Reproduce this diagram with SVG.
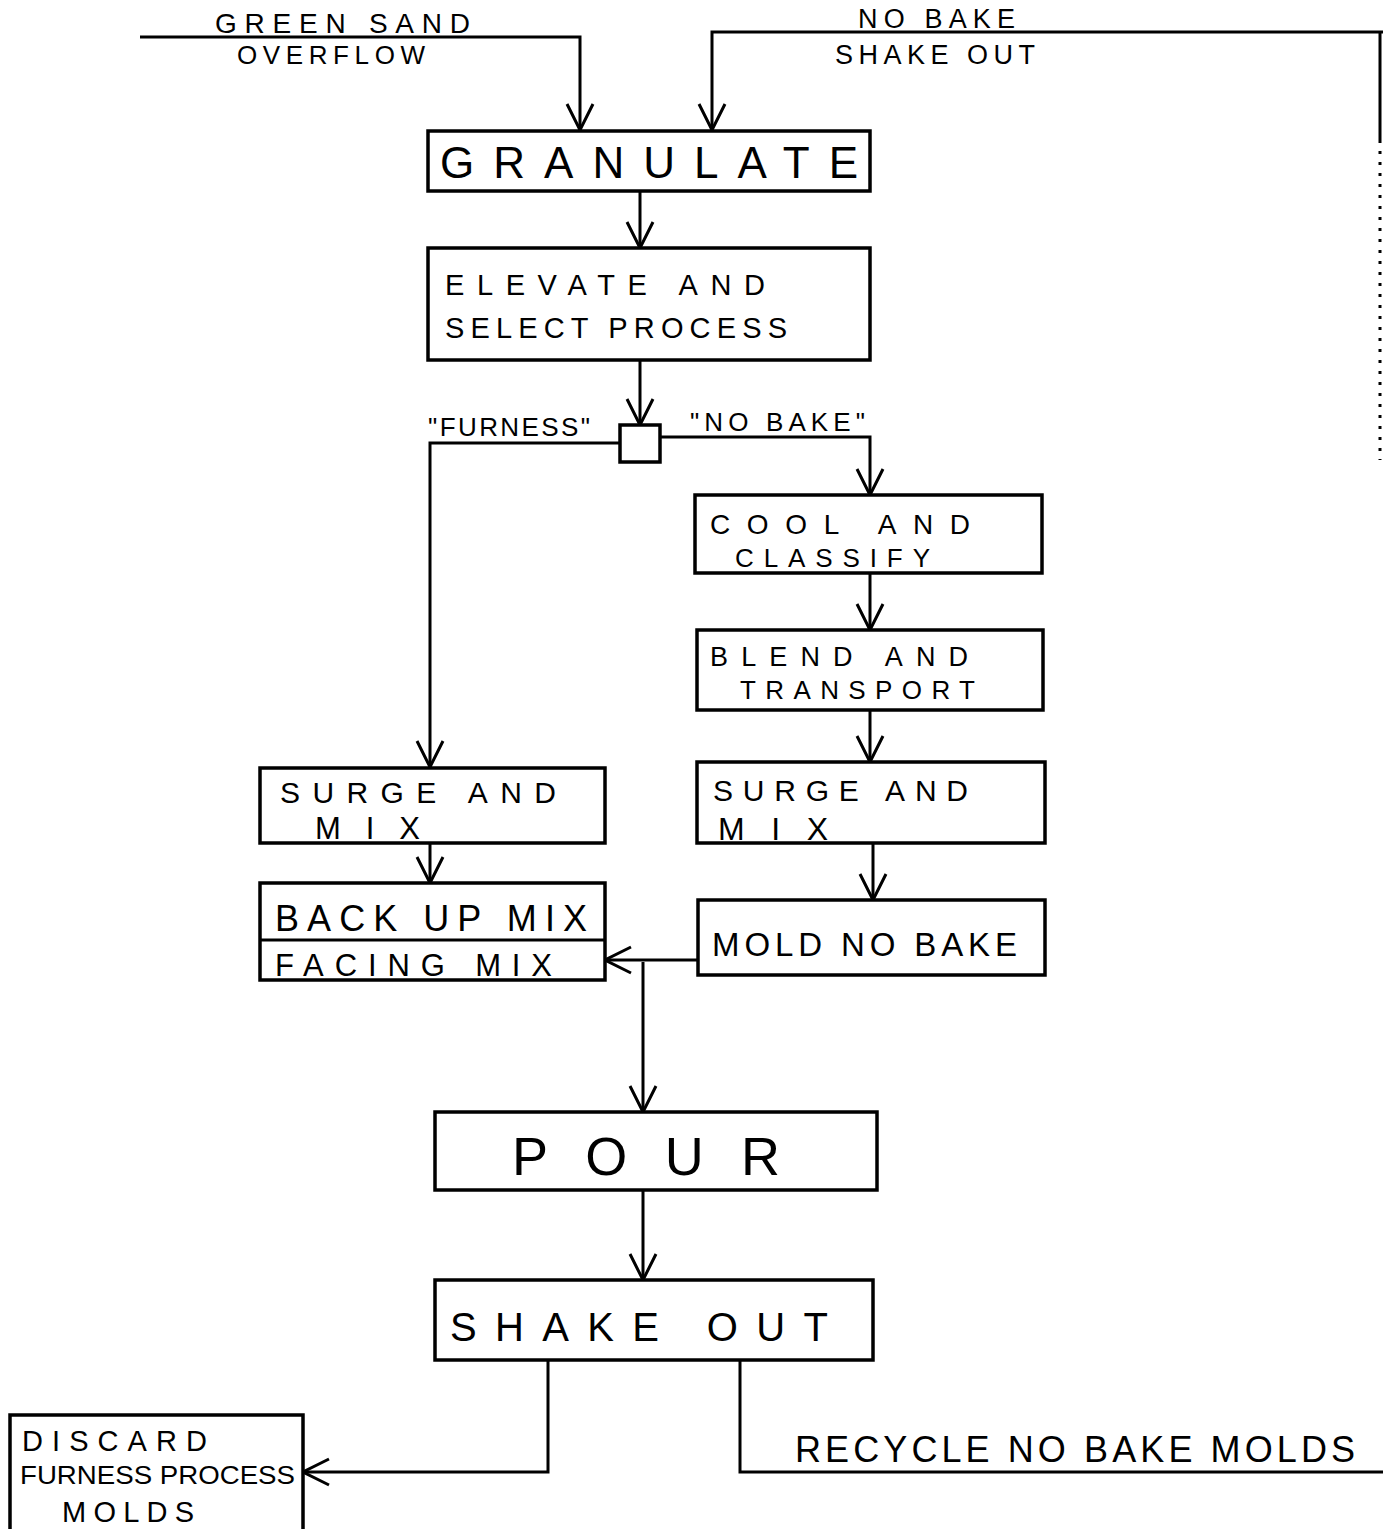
<svg xmlns="http://www.w3.org/2000/svg" width="1383" height="1529" viewBox="0 0 1383 1529">
<style>
.box{fill:#fff;stroke:#000;stroke-width:3.5}
.ln{fill:none;stroke:#000;stroke-width:3}
.t{font-family:"Liberation Sans",Arial,sans-serif;fill:#000}
.ah{fill:none;stroke:#000;stroke-width:3}
</style>
<defs>
<marker id="arr" viewBox="0 0 30 30" refX="28" refY="15" markerWidth="30" markerHeight="30" markerUnits="userSpaceOnUse" orient="auto">
<path d="M2 2 L28 15 L2 28" class="ah"/>
</marker>
</defs>
<rect width="1383" height="1529" fill="#fff"/>
<g id="connectors">
<path class="ln" d="M140 37 H580 V130" marker-end="url(#arr)"/>
<path class="ln" d="M1383 32 H712 V130" marker-end="url(#arr)"/>
<path class="ln" d="M1380 32 V140"/>
<path class="ln" d="M1380 140 V460" stroke="#ccc" stroke-dasharray="3 8" stroke-width="2"/>
<path class="ln" d="M640 191 V248" marker-end="url(#arr)"/>
<path class="ln" d="M640 360 V425" marker-end="url(#arr)"/>
<path class="ln" d="M620 443 H430 V767" marker-end="url(#arr)"/>
<path class="ln" d="M660 437 H870 V495" marker-end="url(#arr)"/>
<path class="ln" d="M870 573 V630" marker-end="url(#arr)"/>
<path class="ln" d="M870 710 V762" marker-end="url(#arr)"/>
<path class="ln" d="M873 843 V900" marker-end="url(#arr)"/>
<path class="ln" d="M430 843 V883" marker-end="url(#arr)"/>
<path class="ln" d="M698 960 H605" marker-end="url(#arr)"/>
<path class="ln" d="M643 962 V1112" marker-end="url(#arr)"/>
<path class="ln" d="M643 1190 V1280" marker-end="url(#arr)"/>
<path class="ln" d="M548 1360 V1472 H303" marker-end="url(#arr)"/>
<path class="ln" d="M740 1360 V1472 H1383"/>
<text class="t" x="215" y="33" font-size="28" textLength="255" lengthAdjust="spacing">GREEN SAND</text>
<text class="t" x="237" y="64" font-size="26" textLength="188" lengthAdjust="spacing">OVERFLOW</text>
<text class="t" x="858" y="28" font-size="27" textLength="157" lengthAdjust="spacing">NO BAKE</text>
<text class="t" x="835" y="64" font-size="27" textLength="200" lengthAdjust="spacing">SHAKE OUT</text>
<text class="t" x="428" y="436" font-size="26" textLength="162" lengthAdjust="spacing">"FURNESS"</text>
<text class="t" x="690" y="431" font-size="26" textLength="175" lengthAdjust="spacing">"NO BAKE"</text>
<text class="t" x="795" y="1462" font-size="36" textLength="560" lengthAdjust="spacing">RECYCLE NO BAKE MOLDS</text>
</g>
<g id="granulate"><rect class="box" x="428" y="131" width="442" height="60"/><text class="t" x="440" y="178" font-size="44" textLength="418" lengthAdjust="spacing">GRANULATE</text></g>
<g id="elevate"><rect class="box" x="428" y="248" width="442" height="112"/><text class="t" x="445" y="295" font-size="29" textLength="320" lengthAdjust="spacing">ELEVATE    AND</text><text class="t" x="445" y="338" font-size="29" textLength="342" lengthAdjust="spacing">SELECT   PROCESS</text></g>
<g id="switch"><rect class="box" x="620" y="425" width="40" height="37"/></g>
<g id="cool"><rect class="box" x="695" y="495" width="347" height="78"/><text class="t" x="710" y="534" font-size="28" textLength="260" lengthAdjust="spacing">COOL   AND</text><text class="t" x="735" y="567" font-size="26" textLength="195" lengthAdjust="spacing">CLASSIFY</text></g>
<g id="blend"><rect class="box" x="697" y="630" width="346" height="80"/><text class="t" x="710" y="666" font-size="27" textLength="258" lengthAdjust="spacing">BLEND   AND</text><text class="t" x="740" y="699" font-size="26" textLength="235" lengthAdjust="spacing">TRANSPORT</text></g>
<g id="surge-right"><rect class="box" x="697" y="762" width="348" height="81"/><text class="t" x="713" y="801" font-size="30" textLength="255" lengthAdjust="spacing">SURGE  AND</text><text class="t" x="718" y="840" font-size="32" textLength="110" lengthAdjust="spacing">MIX</text></g>
<g id="mold"><rect class="box" x="698" y="900" width="347" height="75"/><text class="t" x="712" y="956" font-size="33" textLength="305" lengthAdjust="spacing">MOLD NO BAKE</text></g>
<g id="surge-left"><rect class="box" x="260" y="768" width="345" height="75"/><text class="t" x="280" y="803" font-size="30" textLength="276" lengthAdjust="spacing">SURGE   AND</text><text class="t" x="315" y="839" font-size="31" textLength="105" lengthAdjust="spacing">MIX</text></g>
<g id="mix"><rect class="box" x="260" y="883" width="345" height="97"/><line class="ln" x1="260" y1="940" x2="605" y2="940" stroke-width="5"/><text class="t" x="275" y="931" font-size="36" textLength="312" lengthAdjust="spacing">BACK UP MIX</text><text class="t" x="275" y="976" font-size="31" textLength="277" lengthAdjust="spacing">FACING MIX</text></g>
<g id="pour"><rect class="box" x="435" y="1112" width="442" height="78"/><text class="t" x="512" y="1175" font-size="54" textLength="268" lengthAdjust="spacing">POUR</text></g>
<g id="shake"><rect class="box" x="435" y="1280" width="438" height="80"/><text class="t" x="450" y="1341" font-size="40" textLength="378" lengthAdjust="spacing">SHAKE  OUT</text></g>
<g id="discard"><path class="box" d="M10 1531 V1415 H303 V1531"/><text class="t" x="22" y="1451" font-size="29" textLength="185" lengthAdjust="spacing">DISCARD</text><text class="t" x="20" y="1484" font-size="25" textLength="275" lengthAdjust="spacingAndGlyphs">FURNESS PROCESS</text><text class="t" x="62" y="1522" font-size="29" textLength="132" lengthAdjust="spacing">MOLDS</text></g>
</svg>
